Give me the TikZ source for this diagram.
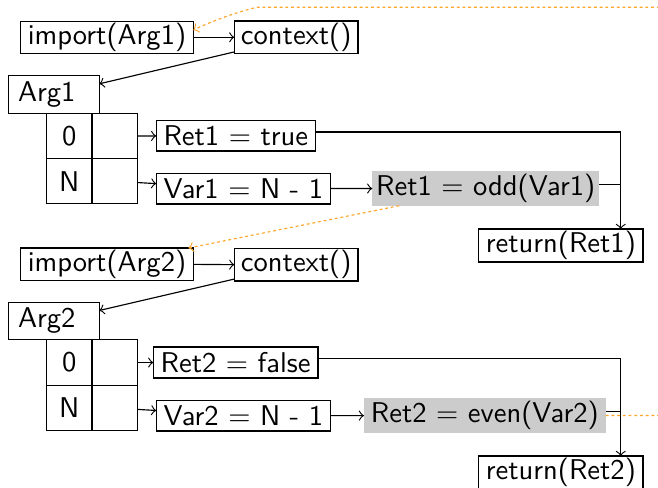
\documentclass[tikz,border=0pt]{standalone}
\newcommand\pxu{0.35pt}
\definecolor{callflow}{RGB}{255,165,40}
\tikzset{
  every node/.style={font=\sffamily, inner sep=0pt, outer sep=0pt},
  wd/.style={minimum width=#1*\pxu},
  ht/.style={minimum height=#1*\pxu},
  box/.style={draw},
  argbox/.style={draw, text width=72*\pxu, inner xsep=9.3*\pxu, align=left},
  cell/.style={draw, minimum width=45.3*\pxu, minimum height=45.3*\pxu},
  evalbox/.style={fill=gray!40},
  flow/.style={callflow, dash pattern=on 1pt off 1pt},
}
\begin{document}
\begin{tikzpicture}[x=\pxu, y=-\pxu]
\useasboundingbox (0,0) rectangle (658,487);
\clip (0,0) rectangle (658,487);

% first call: odd
\node[box, wd=172.6, ht=32]   (imp1)  at (107,37.3)    {import(Arg1)};
\node[box, wd=123.7, ht=32.5] (ctx1)  at (296.2,37.3)  {context()};
\node[argbox, ht=37.6]        (arg1)  at (54,94.5)     {Arg1};
\node[cell] (c1z)  at (69.35,136)   {0};
\node[cell] (c1zv) at (114.65,136)  {};
\node[cell] (c1n)  at (69.35,181.2) {N};
\node[cell] (c1nv) at (114.65,181.2) {};
\node[box, wd=159, ht=30.3]   (ret1t) at (235.8,135.85) {Ret1 $=$ true};
\node[box, wd=174, ht=30.7]   (var1)  at (243.3,188.65) {Var1 $=$ N - 1};
\node[evalbox, wd=226.7, ht=34.7] (odd1) at (485.65,188.35) {Ret1 $=$ odd(Var1)};
\node[box, wd=164.3, ht=33]   (rtn1)  at (560.85,245.5) {return(Ret1)};

% second call: even
\node[box, wd=172.6, ht=32.7] (imp2)  at (107,264.35)  {import(Arg2)};
\node[box, wd=123.7, ht=32.7] (ctx2)  at (296.2,264.65) {context()};
\node[argbox, ht=37.4]        (arg2)  at (54,321)      {Arg2};
\node[cell] (c2z)  at (69.35,362.5) {0};
\node[cell] (c2zv) at (114.65,362.5) {};
\node[cell] (c2n)  at (69.35,408)   {N};
\node[cell] (c2nv) at (114.65,408)  {};
\node[box, wd=164.7, ht=31]   (ret2f) at (235.65,362.5) {Ret2 $=$ false};
\node[box, wd=174, ht=30.7]   (var2)  at (243.3,415.65) {Var2 $=$ N - 1};
\node[evalbox, wd=241.7, ht=34.4] (even2) at (484.85,415.5) {Ret2 $=$ even(Var2)};
\node[box, wd=164.3, ht=33]   (rtn2)  at (560.85,472.5) {return(Ret2)};

% join points of the two branches
\coordinate (j1) at (620.7,132);
\coordinate (k1) at (620.7,184.3);
\coordinate (j2) at (620.7,358.7);
\coordinate (k2) at (620.7,411.7);

% control flow, first call
\draw[->] (imp1.east) -- (ctx1.west);
\draw[->] (ctx1) -- (arg1);
\draw[->] (c1zv) -- (ret1t);
\draw[->] (c1nv) -- (var1);
\draw[->] (var1) -- (odd1);
\draw (ret1t.east |- j1) -- (j1);
\draw (odd1.east |- k1) -- (k1);
\draw[->] (j1) -- (j1 |- rtn1.north);

% control flow, second call
\draw[->] (imp2.east) -- (ctx2.west);
\draw[->] (ctx2) -- (arg2);
\draw[->] (c2zv) -- (ret2f);
\draw[->] (c2nv) -- (var2);
\draw[->] (var2) -- (even2);
\draw (ret2f.east |- j2) -- (j2);
\draw (even2.east |- k2) -- (k2);
\draw[->] (j2) -- (j2 |- rtn2.north);

% recursive calls
\draw[flow, ->] (odd1) -- (imp2);
\coordinate (loopB) at (700,7.3);
\coordinate (loopC) at (256.7,7.3);
\draw[flow, ->] (even2.east) -| (loopB) -- (loopC)
  .. controls (235,12.5) and (210,22) .. ([yshift=7.3*\pxu]imp1.east);
\end{tikzpicture}
\end{document}
